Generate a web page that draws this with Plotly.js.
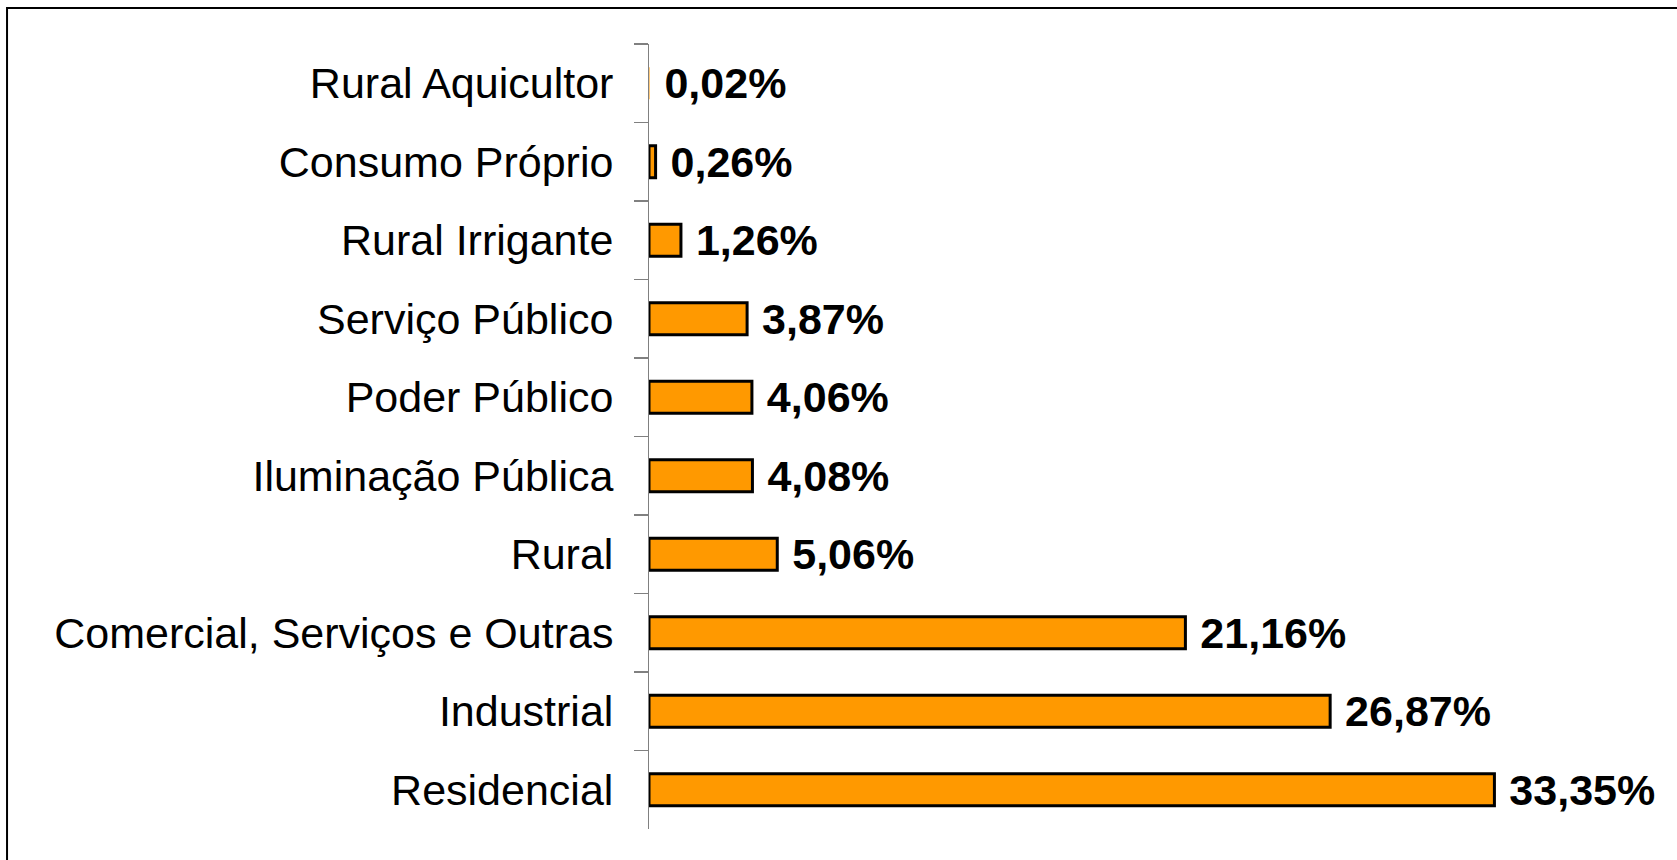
<!DOCTYPE html>
<html>
<head>
<meta charset="utf-8">
<script src="https://cdn.plot.ly/plotly-3.0.1.min.js"></script>
<style>
  html, body { margin: 0; padding: 0; background: #fff; }
  #chart { width: 1677px; height: 860px; }
</style>
</head>
<body>
<div id="chart"></div>
<script>
// Categories listed top to bottom
const categories = [
  "Rural Aquicultor",
  "Consumo Próprio",
  "Rural Irrigante",
  "Serviço Público",
  "Poder Público",
  "Iluminação Pública",
  "Rural",
  "Comercial, Serviços e Outras",
  "Industrial",
  "Residencial"
];
const shares = [0.02, 0.26, 1.26, 3.87, 4.06, 4.08, 5.06, 21.16, 26.87, 33.35];
const shareLabels = ["0,02%", "0,26%", "1,26%", "3,87%", "4,06%", "4,08%", "5,06%", "21,16%", "26,87%", "33,35%"];

const trace = {
  type: "bar",
  orientation: "h",
  y: categories,
  x: shares,
  text: shareLabels.map(s => "\u00a0" + s),
  textposition: "outside",
  constraintext: "none",
  cliponaxis: false,
  textfont: { family: "Liberation Sans, Arial, sans-serif", size: 43, color: "#000", weight: "bold" },
  marker: {
    color: "#FF9900",
    line: { color: "#000", width: shares.map(v => (v < 0.1 ? 0 : 3)) }
  },
  hoverinfo: "none"
};

const layout = {
  width: 1677,
  height: 860,
  margin: { l: 649, r: 14, t: 44, b: 31 },
  paper_bgcolor: "#fff",
  plot_bgcolor: "#fff",
  showlegend: false,
  bargap: 0.59,
  font: { family: "Liberation Sans, Arial, sans-serif", color: "#000" },
  xaxis: {
    range: [0, 40],
    visible: false,
    fixedrange: true
  },
  yaxis: {
    type: "category",
    autorange: "reversed",
    showline: true,
    linecolor: "#808080",
    linewidth: 1,
    ticks: "outside",
    tickson: "boundaries",
    ticklen: 14,
    tickwidth: 1.5,
    tickcolor: "#808080",
    ticklabelstandoff: 26,
    showgrid: false,
    zeroline: false,
    tickfont: { family: "Liberation Sans, Arial, sans-serif", size: 43, color: "#000" },
    fixedrange: true
  },
  shapes: [{
    type: "rect",
    xref: "paper", yref: "paper",
    x0: -0.6331, x1: 1.03,
    y0: -0.06, y1: 1.0459,
    line: { color: "#000", width: 2 },
    fillcolor: "rgba(0,0,0,0)",
    layer: "above"
  }]
};

Plotly.newPlot("chart", [trace], layout, { displayModeBar: false, staticPlot: true });
</script>
</body>
</html>
